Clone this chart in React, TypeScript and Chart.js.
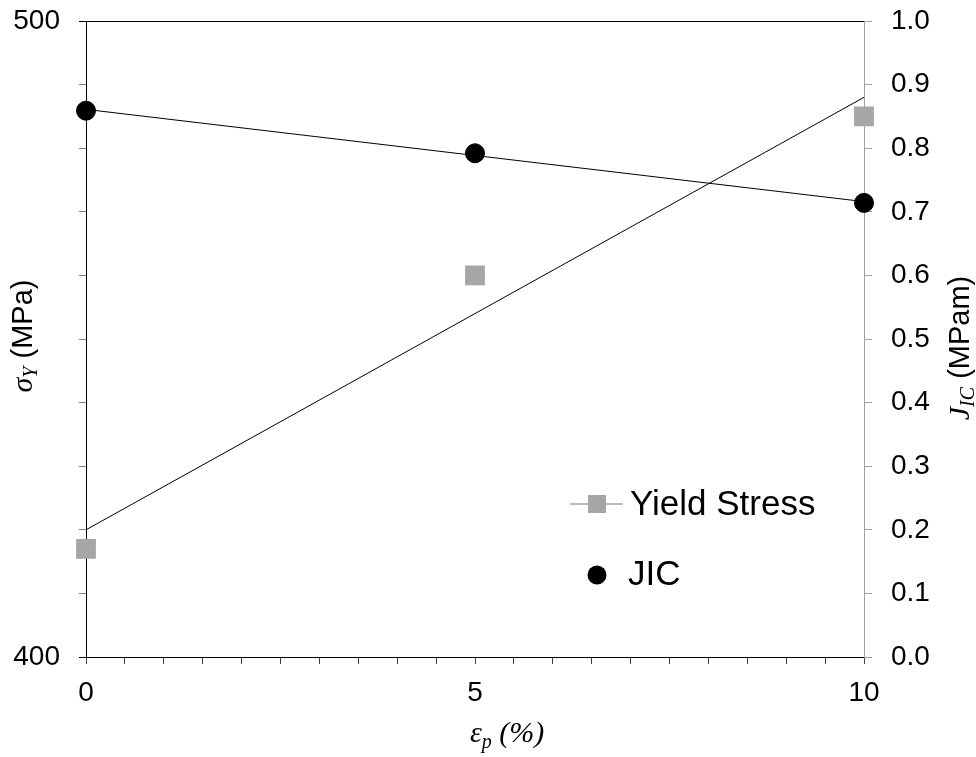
import React, { useEffect, useRef } from "react";
import { Chart, registerables } from "chart.js";

Chart.register(...registerables);

const xValues = [0, 5, 10];
const yieldStress = [417, 460, 485];
const jicValues = [0.859, 0.792, 0.714];
const trendX = [0, 10];
const yieldTrend = [420, 488];
const jicTrend = [0.861, 0.716];
const leftLabels = [400, 500];
const bottomLabels = [0, 5, 10];

const SANS = "'Liberation Sans', Arial, sans-serif";
const SERIF = "'Liberation Serif', 'Times New Roman', serif";
const GRAY = "#a6a6a6";

type Run = { text: string; font: string; dy?: number };

function drawRuns(ctx: CanvasRenderingContext2D, runs: Run[], x: number, y: number, align: "left" | "center") {
  let total = 0;
  const widths = runs.map((r) => {
    ctx.font = r.font;
    const w = ctx.measureText(r.text).width;
    total += w;
    return w;
  });
  let cx = align === "center" ? x - total / 2 : x;
  ctx.textBaseline = "alphabetic";
  ctx.textAlign = "left";
  ctx.fillStyle = "#000";
  runs.forEach((r, i) => {
    ctx.font = r.font;
    ctx.fillText(r.text, cx, y + (r.dy || 0));
    cx += widths[i];
  });
}

const decorPlugin = {
  id: "decor",
  afterDraw(chart: any) {
    const ctx: CanvasRenderingContext2D = chart.ctx;
    const a = chart.chartArea;
    ctx.save();
    // top border
    ctx.strokeStyle = "#000";
    ctx.lineWidth = 1;
    ctx.beginPath();
    ctx.moveTo(a.left, Math.round(a.top) + 0.5);
    ctx.lineTo(a.right, Math.round(a.top) + 0.5);
    ctx.stroke();

    // left title
    ctx.save();
    ctx.translate(32, 336);
    ctx.rotate(-Math.PI / 2);
    drawRuns(
      ctx,
      [
        { text: "σ", font: `italic 30px ${SERIF}` },
        { text: "Y", font: `italic 20px ${SERIF}`, dy: 5 },
        { text: " (MPa)", font: `29px ${SANS}` },
      ],
      0,
      0,
      "center"
    );
    ctx.restore();

    // right title
    ctx.save();
    ctx.translate(969, 348);
    ctx.rotate(-Math.PI / 2);
    drawRuns(
      ctx,
      [
        { text: "J", font: `italic 30px ${SERIF}` },
        { text: "IC", font: `italic 20px ${SERIF}`, dy: 5 },
        { text: " (MPam)", font: `29px ${SANS}` },
      ],
      0,
      0,
      "center"
    );
    ctx.restore();

    // bottom title
    drawRuns(
      ctx,
      [
        { text: "ε", font: `italic 30px ${SERIF}` },
        { text: "p", font: `italic 20px ${SERIF}`, dy: 6 },
        { text: " (%)", font: `italic 30px ${SERIF}` },
      ],
      470,
      742,
      "left"
    );

    // legend
    ctx.strokeStyle = GRAY;
    ctx.lineWidth = 1.5;
    ctx.beginPath();
    ctx.moveTo(570, 504);
    ctx.lineTo(623, 504);
    ctx.stroke();
    ctx.fillStyle = GRAY;
    ctx.fillRect(588, 495, 18, 18);
    ctx.fillStyle = "#000";
    ctx.beginPath();
    ctx.arc(597, 575, 9.5, 0, Math.PI * 2);
    ctx.fill();
    ctx.font = `35px ${SANS}`;
    ctx.textBaseline = "alphabetic";
    ctx.textAlign = "left";
    ctx.fillText("Yield Stress", 630, 515);
    ctx.fillText("JIC", 628, 585);
    ctx.restore();
  },
};

const zeroPad = (s: any) => {
  s.paddingTop = 0;
  s.paddingBottom = 0;
  s.paddingLeft = 0;
  s.paddingRight = 0;
};

export default function App() {
  const ref = useRef<HTMLCanvasElement | null>(null);
  useEffect(() => {
    if (!ref.current) return;
    Chart.defaults.color = "#000";
    const chart = new Chart(ref.current, {
      type: "scatter",
      data: {
        datasets: [
          {
            label: "Yield Stress",
            data: xValues.map((x, i) => ({ x, y: yieldStress[i] })),
            yAxisID: "y",
            pointStyle: "rect",
            pointRadius: 14,
            pointBackgroundColor: GRAY,
            pointBorderColor: GRAY,
            pointBorderWidth: 0,
            showLine: false,
            clip: false,
          },
          {
            label: "JIC",
            data: xValues.map((x, i) => ({ x, y: jicValues[i] })),
            yAxisID: "y1",
            pointStyle: "circle",
            pointRadius: 9.5,
            pointBackgroundColor: "#000",
            pointBorderColor: "#000",
            pointBorderWidth: 1,
            showLine: false,
            clip: false,
          },
          {
            label: "Yield trend",
            data: trendX.map((x, i) => ({ x, y: yieldTrend[i] })),
            yAxisID: "y",
            showLine: true,
            pointRadius: 0,
            borderColor: "#000",
            borderWidth: 1,
          },
          {
            label: "JIC trend",
            data: trendX.map((x, i) => ({ x, y: jicTrend[i] })),
            yAxisID: "y1",
            showLine: true,
            pointRadius: 0,
            borderColor: "#000",
            borderWidth: 1,
          },
        ],
      },
      options: {
        animation: false,
        responsive: false,
        devicePixelRatio: 1,
        layout: { padding: { top: 21, left: 0, right: 0, bottom: 0 } },
        plugins: { legend: { display: false }, tooltip: { enabled: false } },
        scales: {
          x: {
            type: "linear",
            position: "bottom",
            min: 0,
            max: 10,
            afterFit: (s: any) => {
              s.height = 100;
              zeroPad(s);
            },
            border: { color: "#000", width: 1 },
            grid: {
              drawOnChartArea: false,
              drawTicks: true,
              tickLength: 7,
              color: "#404040",
            },
            ticks: {
              stepSize: 0.5,
              autoSkip: false,
              maxRotation: 0,
              padding: 12,
              font: { family: SANS, size: 28 },
              color: "#000",
              callback: (v: any) => (bottomLabels.includes(Number(v)) ? String(v) : ""),
            },
          },
          y: {
            type: "linear",
            position: "left",
            min: 400,
            max: 500,
            afterFit: (s: any) => {
              s.width = 86;
              zeroPad(s);
            },
            border: { color: "#000", width: 1 },
            grid: {
              drawOnChartArea: false,
              drawTicks: true,
              tickLength: 7,
              color: (c: any) => (c.tick && leftLabels.includes(c.tick.value) ? "#000" : "#808080"),
            },
            ticks: {
              stepSize: 10,
              autoSkip: false,
              padding: 19,
              font: { family: SANS, size: 28 },
              color: "#000",
              callback: (v: any) => (leftLabels.includes(Number(v)) ? String(v) : ""),
            },
          },
          y1: {
            type: "linear",
            position: "right",
            min: 0,
            max: 1,
            afterFit: (s: any) => {
              s.width = 112;
              zeroPad(s);
            },
            border: { color: "#a0a0a0", width: 1 },
            grid: {
              drawOnChartArea: false,
              drawTicks: true,
              tickLength: 8,
              color: "#a0a0a0",
            },
            ticks: {
              stepSize: 0.1,
              autoSkip: false,
              padding: 19,
              font: { family: SANS, size: 28 },
              color: "#000",
              callback: (v: any) => Number(v).toFixed(1),
            },
          },
        },
      },
      plugins: [decorPlugin],
    } as any);
    return () => chart.destroy();
  }, []);
  return (
    <div style={{ position: "fixed", left: 0, top: 0, width: 976, height: 757, background: "#fff" }}>
      <canvas ref={ref} width={976} height={757} style={{ display: "block" }} />
    </div>
  );
}
